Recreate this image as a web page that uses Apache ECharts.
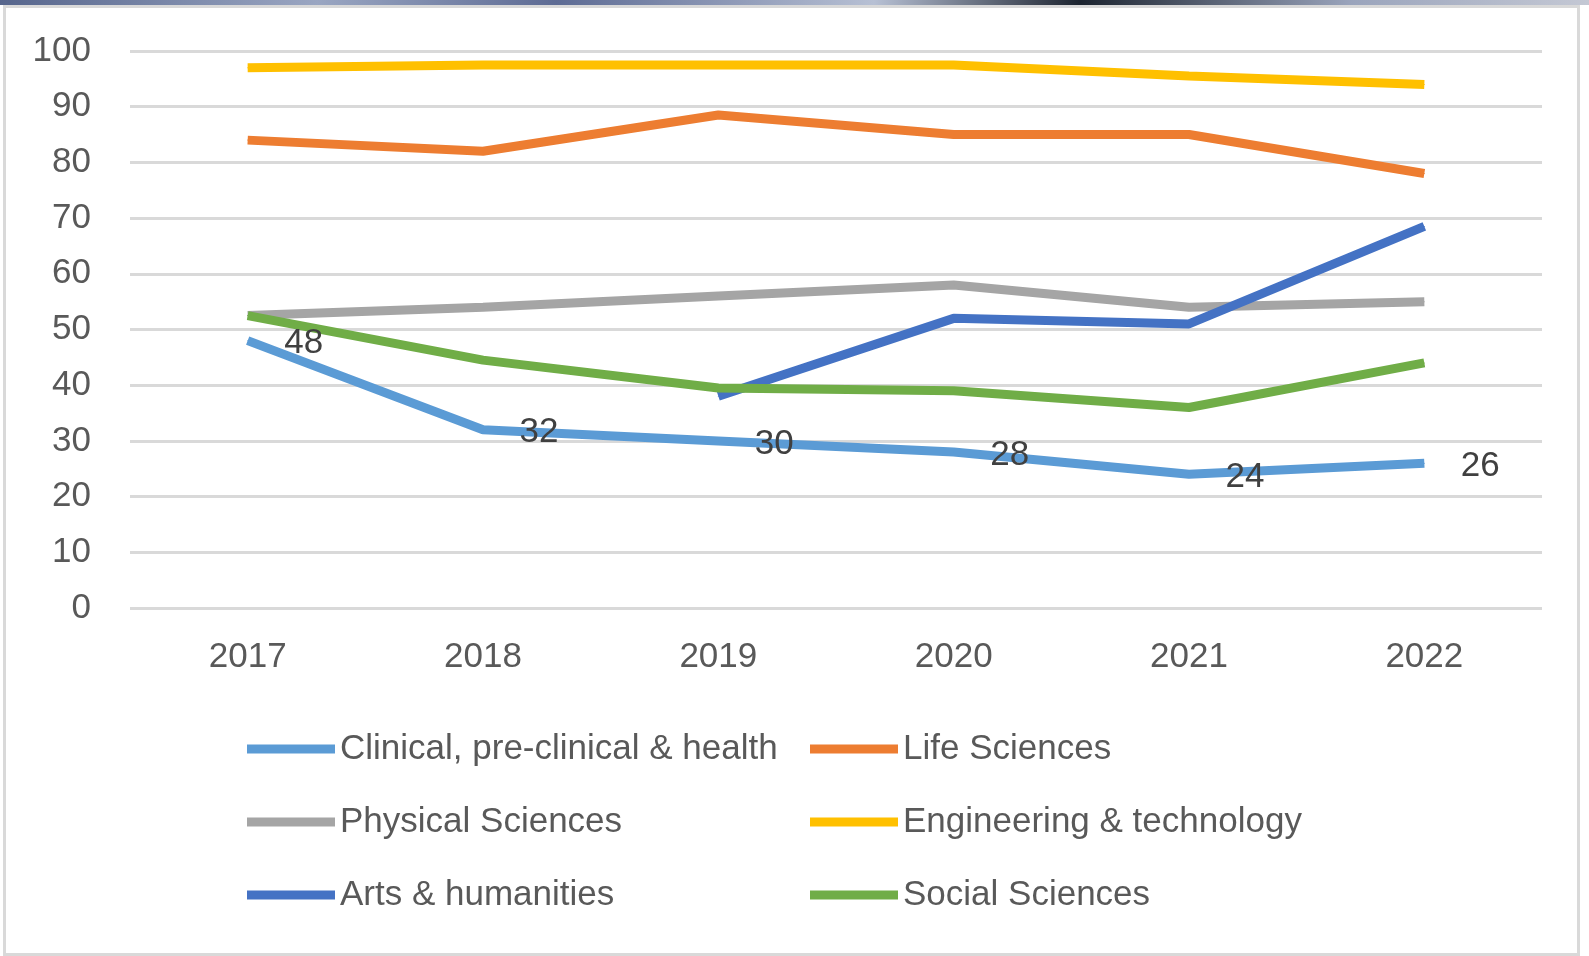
<!DOCTYPE html>
<html>
<head>
<meta charset="utf-8">
<script src="https://cdn.jsdelivr.net/npm/echarts@6/dist/echarts.min.js"></script>
<style>
  html, body { margin: 0; padding: 0; background: #ffffff; }
  .top-strip {
    position: absolute; left: 0; top: 0; width: 1589px; height: 5px;
    background: linear-gradient(90deg, #56658c 0%, #9aa6c2 20%, #5d6b94 35%, #b7c0d4 55%, #1c2430 68%, #9aa4bc 85%, #c4c8d4 100%);
  }
  .chart-wrapper {
    position: absolute; left: 3px; top: 5px; width: 1571px; height: 945px;
    border: 3px solid #d9d9d9; background: #ffffff;
  }
  #line-chart { position: absolute; left: -6px; top: -8px; width: 1589px; height: 956px; }
</style>
</head>
<body>
<div class="top-strip"></div>
<div class="chart-wrapper">
  <div id="line-chart"></div>
</div>
<script>
const years = ['2017', '2018', '2019', '2020', '2021', '2022'];

const clinical = [48, 32, 30, 28, 24, 26];
const lifeSciences = [84, 82, 88.5, 85, 85, 78];
const physicalSciences = [52.5, 54, 56, 58, 54, 55];
const engineering = [97, 97.5, 97.5, 97.5, 95.5, 94];
const arts = [null, null, 38, 52, 51, 68.5];
const socialSciences = [52.5, 44.5, 39.5, 39, 36, 44];

const seriesNames = [
  'Clinical, pre-clinical & health',
  'Life Sciences',
  'Physical Sciences',
  'Engineering & technology',
  'Arts & humanities',
  'Social Sciences',
];
const seriesColors = ['#5b9bd5', '#ed7d31', '#a5a5a5', '#ffc000', '#4472c4', '#70ad47'];
const seriesData = [clinical, lifeSciences, physicalSciences, engineering, arts, socialSciences];

const fontFamily = '"Liberation Sans", Arial, sans-serif';

const makeSeries = (idx) => ({
  name: seriesNames[idx],
  type: 'line',
  data: seriesData[idx],
  symbol: 'circle',
  symbolSize: 1,
  showSymbol: true,
  color: seriesColors[idx],
  lineStyle: { color: seriesColors[idx], width: 9 },
  itemStyle: { color: seriesColors[idx] },
  z: idx === 0 ? 3 : 2,
  label: idx === 0 ? {
    show: true,
    position: 'right',
    distance: 36,
    offset: [0, 3],
    color: '#404040',
    fontSize: 35,
    fontFamily,
  } : { show: false },
  emphasis: { disabled: true },
});

const legendCommon = {
  orient: 'vertical',
  top: 724,
  icon: 'rect',
  itemWidth: 88,
  itemHeight: 9,
  itemGap: 33,
  textStyle: { color: '#595959', fontSize: 35, fontFamily, lineHeight: 40 },
  selectedMode: false,
};

const option = {
  animation: false,
  grid: { left: 130, right: 47, top: 51, bottom: 348 },
  legend: [
    { ...legendCommon, left: 242, data: [seriesNames[0], seriesNames[2], seriesNames[4]] },
    { ...legendCommon, left: 805, data: [seriesNames[1], seriesNames[3], seriesNames[5]] },
  ],
  xAxis: {
    type: 'category',
    data: years,
    boundaryGap: true,
    axisLine: { show: false },
    axisTick: { show: false },
    axisLabel: { color: '#595959', fontSize: 35, fontFamily, margin: 32 },
  },
  yAxis: {
    type: 'value',
    min: 0,
    max: 100,
    interval: 10,
    axisLine: { show: false },
    axisTick: { show: false },
    axisLabel: { color: '#595959', fontSize: 35, fontFamily, margin: 39 },
    splitLine: { lineStyle: { color: '#d9d9d9', width: 3 } },
  },
  series: seriesNames.map((_, i) => makeSeries(i)),
};

const chartInstance = echarts.init(document.getElementById('line-chart'));
chartInstance.setOption(option);
</script>
</body>
</html>
